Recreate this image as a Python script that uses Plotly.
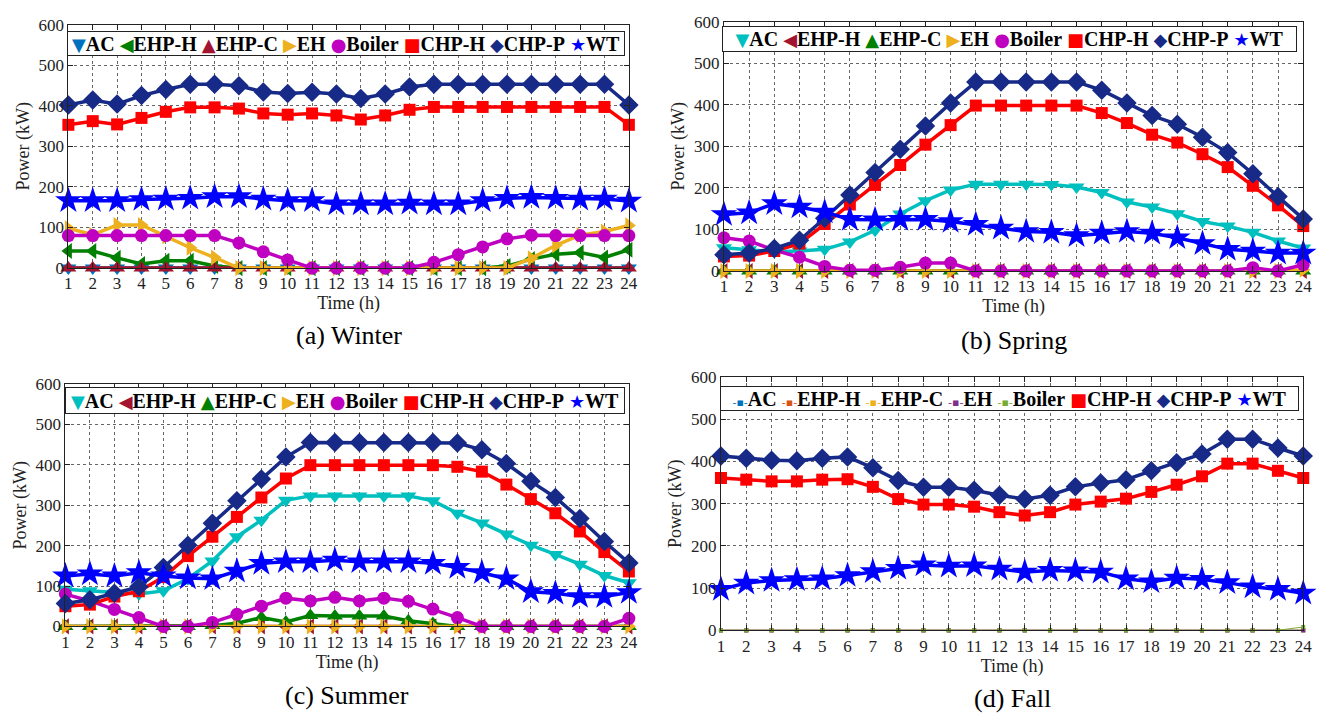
import plotly.graph_objects as go

# ---------------- data ----------------
hours = list(range(1, 25))
hour_labels = [str(h) for h in hours]
power_ticks = [0, 100, 200, 300, 400, 500, 600]
series_names = ["AC", "EHP-H", "EHP-C", "EH", "Boiler", "CHP-H", "CHP-P", "WT"]

# (a) Winter
w_ac = [0, 0, 0, 0, 0, 0, 0, 0, 0, 0, 0, 0, 0, 0, 0, 0, 0, 0, 0, 0, 0, 0, 0, 0]
w_ehp_h = [42, 42, 25, 10, 18, 18, 5, 0, 0, 0, 0, 0, 0, 0, 0, 0, 0, 0, 5, 22, 34, 38, 26, 45]
w_ehp_c = [0, 0, 0, 0, 0, 0, 0, 0, 0, 0, 0, 0, 0, 0, 0, 0, 0, 0, 0, 0, 0, 0, 0, 0]
w_eh = [98, 82, 106, 106, 78, 50, 26, 0, 0, 0, 0, 0, 0, 0, 0, 0, 0, 0, 0, 24, 56, 81, 90, 105]
w_boiler = [80, 80, 80, 80, 80, 80, 80, 62, 40, 20, 0, 0, 0, 0, 0, 14, 33, 52, 72, 81, 80, 80, 80, 80]
w_chp_h = [353, 362, 354, 370, 385, 396, 396, 393, 381, 378, 381, 376, 366, 376, 390, 397, 397, 397, 397, 397, 397, 397, 397, 353]
w_chp_p = [402, 414, 404, 425, 440, 453, 453, 449, 434, 430, 433, 429, 418, 429, 446, 453, 453, 453, 453, 453, 453, 453, 453, 402]
w_wt = [166, 166, 166, 169, 170, 172, 176, 176, 170, 166, 166, 158, 158, 158, 160, 158, 158, 166, 172, 174, 172, 170, 170, 165]

# (b) Spring
s_ac = [56, 51, 46, 48, 52, 70, 98, 137, 169, 195, 209, 209, 209, 208, 202, 189, 166, 154, 138, 119, 108, 93, 72, 55]
s_ehp_h = [0, 0, 0, 0, 0, 0, 0, 0, 0, 0, 0, 0, 0, 0, 0, 0, 0, 0, 0, 0, 0, 0, 0, 0]
s_ehp_c = [0, 0, 0, 0, 0, 0, 0, 0, 0, 0, 0, 0, 0, 0, 0, 0, 0, 0, 0, 0, 0, 0, 0, 0]
s_eh = [0, 0, 0, 0, 0, 0, 0, 0, 0, 0, 0, 0, 0, 0, 0, 0, 0, 0, 0, 0, 0, 0, 0, 3]
s_boiler = [80, 72, 50, 33, 11, 2, 2, 9, 19, 19, 0, 0, 0, 0, 0, 0, 0, 0, 0, 0, 0, 8, 0, 15]
s_chp_h = [35, 37, 48, 66, 113, 160, 207, 255, 304, 351, 398, 398, 398, 398, 398, 380, 356, 328, 309, 281, 250, 205, 158, 108]
s_chp_p = [39, 43, 54, 74, 127, 183, 237, 293, 349, 404, 455, 455, 455, 455, 455, 435, 404, 374, 353, 322, 285, 234, 179, 125]
s_wt = [136, 140, 162, 154, 142, 124, 123, 124, 124, 119, 112, 103, 95, 93, 85, 91, 95, 91, 80, 66, 52, 48, 43, 43]

# (c) Summer
u_ac = [92, 88, 82, 80, 88, 118, 162, 222, 263, 312, 323, 323, 323, 323, 323, 311, 280, 256, 229, 201, 178, 154, 126, 108]
u_ehp_h = [0, 0, 0, 0, 0, 0, 0, 0, 0, 0, 0, 0, 0, 0, 0, 0, 0, 0, 0, 0, 0, 0, 0, 0]
u_ehp_c = [0, 0, 0, 0, 0, 0, 2, 8, 22, 11, 27, 26, 26, 26, 14, 7, 0, 0, 0, 0, 0, 0, 0, 0]
u_eh = [0, 0, 0, 0, 0, 0, 0, 0, 0, 0, 0, 0, 0, 0, 0, 0, 0, 0, 0, 0, 0, 0, 0, 0]
u_boiler = [80, 63, 42, 22, 0, 0, 10, 30, 50, 70, 63, 72, 63, 70, 62, 43, 22, 0, 0, 0, 0, 0, 0, 20]
u_chp_h = [50, 54, 74, 87, 122, 174, 222, 271, 319, 366, 399, 399, 399, 399, 399, 399, 395, 383, 351, 315, 280, 235, 184, 136]
u_chp_p = [57, 66, 82, 98, 146, 201, 255, 311, 365, 419, 455, 455, 455, 455, 455, 455, 454, 437, 403, 359, 319, 267, 210, 157]
u_wt = [125, 130, 125, 133, 125, 120, 118, 137, 156, 160, 160, 164, 160, 160, 160, 156, 146, 133, 118, 86, 82, 74, 74, 84]

# (d) Fall
f_ac = [0, 0, 0, 0, 0, 0, 0, 0, 0, 0, 0, 0, 0, 0, 0, 0, 0, 0, 0, 0, 0, 0, 0, 0]
f_ehp_h = [0, 0, 0, 0, 0, 0, 0, 0, 0, 0, 0, 0, 0, 0, 0, 0, 0, 0, 0, 0, 0, 0, 0, 0]
f_ehp_c = [0, 0, 0, 0, 0, 0, 0, 0, 0, 0, 0, 0, 0, 0, 0, 0, 0, 0, 0, 0, 0, 0, 0, 0]
f_eh = [0, 0, 0, 0, 0, 0, 0, 0, 0, 0, 0, 0, 0, 0, 0, 0, 0, 0, 0, 0, 0, 0, 0, 0]
f_boiler = [0, 0, 0, 0, 0, 0, 0, 0, 0, 0, 0, 0, 0, 0, 0, 0, 0, 0, 0, 0, 0, 0, 0, 8]
f_chp_h = [361, 357, 353, 353, 357, 358, 340, 311, 298, 298, 293, 280, 272, 280, 298, 305, 312, 328, 345, 365, 395, 395, 378, 361]
f_chp_p = [413, 408, 403, 402, 408, 411, 385, 355, 339, 339, 332, 320, 311, 320, 340, 349, 357, 378, 397, 418, 453, 453, 432, 413]
f_wt = [97, 112, 118, 120, 122, 130, 139, 147, 155, 152, 153, 145, 138, 142, 141, 138, 122, 115, 124, 121, 113, 103, 97, 88]

captions = ["(a) Winter", "(b) Spring", "(c) Summer", "(d) Fall"]

# ---------------- styles ----------------
FONT = "Liberation Serif"
W, H = 1336, 727
C_BLUE_M = "#0072BD"
C_CYAN = "#00BFBF"
C_GREEN = "#008000"
C_DRED = "#A2142F"
C_ORANGE = "#EDB120"
C_MAG = "#C000C0"
C_RED = "#FF0000"
C_NAVY = "#172A88"
C_WT = "#0000FF"

style_winter = [
    ("triangle-down", C_BLUE_M, 14, 3.5, "▼"),
    ("triangle-left", C_GREEN, 14, 3.5, "◀"),
    ("triangle-up", C_DRED, 14, 3.5, "▲"),
    ("triangle-right", C_ORANGE, 14, 3.5, "▶"),
    ("circle", C_MAG, 13, 3.5, "●"),
    ("square", C_RED, 12, 3.5, "■"),
    ("diamond", C_NAVY, 15, 3.5, "◆"),
    ("star", C_WT, 20, 3.5, "★"),
]
style_mid = [
    ("triangle-down", C_CYAN, 14, 3.5, "▼"),
    ("triangle-left", C_DRED, 14, 3.5, "◀"),
    ("triangle-up", C_GREEN, 14, 3.5, "▲"),
    ("triangle-right", C_ORANGE, 14, 3.5, "▶"),
    ("circle", C_MAG, 13, 3.5, "●"),
    ("square", C_RED, 12, 3.5, "■"),
    ("diamond", C_NAVY, 15, 3.5, "◆"),
    ("star", C_WT, 20, 3.5, "★"),
]
style_fall = [
    ("square", "#0072BD", 4, 1, "▪"),
    ("square", "#D95319", 4, 1, "▪"),
    ("square", "#EDB120", 4, 1, "▪"),
    ("square", "#7E2F8E", 4, 1, "▪"),
    ("square", "#77AC30", 4, 1, "▪"),
    ("square", C_RED, 12, 3.5, "■"),
    ("diamond", C_NAVY, 15, 3.5, "◆"),
    ("star", C_WT, 20, 3.5, "★"),
]

panels = [
    dict(data=[w_ac, w_ehp_h, w_ehp_c, w_eh, w_boiler, w_chp_h, w_chp_p, w_wt], style=style_winter,
         box=(65, 631, 16, 266), leg=(66, 624, 23, 48), cap_y=335),
    dict(data=[s_ac, s_ehp_h, s_ehp_c, s_eh, s_boiler, s_chp_h, s_chp_p, s_wt], style=style_mid,
         box=(727, 1312, 13, 269), leg=(728, 1303, 18, 44), cap_y=340),
    dict(data=[u_ac, u_ehp_h, u_ehp_c, u_eh, u_boiler, u_chp_h, u_chp_p, u_wt], style=style_mid,
         box=(62, 631, 385, 634), leg=(64, 624, 388, 415), cap_y=705),
    dict(data=[f_ac, f_ehp_h, f_ehp_c, f_eh, f_boiler, f_chp_h, f_chp_p, f_wt], style=style_fall,
         box=(724, 1312, 378, 638), leg=(726, 1305, 387, 412), cap_y=708),
]

fig = go.Figure()
layout = dict(
    width=W, height=H, margin=dict(l=0, r=0, t=0, b=0),
    paper_bgcolor="white", plot_bgcolor="white", showlegend=False,
    font=dict(family=FONT, color="#222"),
)
annotations = []

for i, p in enumerate(panels, start=1):
    xa = "x" if i == 1 else f"x{i}"
    ya = "y" if i == 1 else f"y{i}"
    xk = "xaxis" if i == 1 else f"xaxis{i}"
    yk = "yaxis" if i == 1 else f"yaxis{i}"
    x0, x1, y0, y1 = p["box"]
    layout[xk] = dict(
        domain=[x0 / W, x1 / W], anchor=ya, range=[1, 24],
        tickmode="array", tickvals=hours, ticktext=hour_labels,
        showline=True, linecolor="#222", linewidth=1, mirror="ticks",
        ticks="inside", ticklen=5, tickcolor="#222",
        showgrid=True, gridcolor="#666", griddash="dot", gridwidth=1, zeroline=False,
        tickfont=dict(family=FONT, size=17, color="#222"),
        title=dict(text="Time (h)", font=dict(family=FONT, size=18, color="#222"), standoff=0),
    )
    layout[yk] = dict(
        domain=[1 - y1 / H, 1 - y0 / H], anchor=xa, range=[0, 600],
        tickmode="array", tickvals=power_ticks,
        showline=True, linecolor="#222", linewidth=1, mirror="ticks",
        ticks="inside", ticklen=5, tickcolor="#222",
        showgrid=True, gridcolor="#666", griddash="dot", gridwidth=1, zeroline=False,
        tickfont=dict(family=FONT, size=17, color="#222"),
        title=dict(text="Power (kW)", font=dict(family=FONT, size=18, color="#222"), standoff=4),
    )
    for name, vals, (sym, col, msize, lw, glyph) in zip(series_names, p["data"], p["style"]):
        fig.add_trace(go.Scatter(
            x=hours, y=vals, name=name, mode="lines+markers",
            line=dict(color=col, width=lw),
            marker=dict(symbol=sym, size=msize, color=col, line=dict(width=0)),
            xaxis=xa, yaxis=ya, cliponaxis=False,
        ))
    # legend box (text-based)
    lx0, lx1, ly0, ly1 = p["leg"]
    parts = []
    for name, (sym, col, msize, lw, glyph) in zip(series_names, p["style"]):
        if lw > 2:
            g = f"<span style='color:{col};font-family:DejaVu Sans;font-size:18px'>{glyph}</span>"
        else:
            g = f"<span style='color:{col};font-family:DejaVu Sans;font-size:11px'>-{glyph}-</span>"
        parts.append(g + f"<b>{name}</b>")
    annotations.append(dict(
        text="&nbsp;".join(parts), xref="paper", yref="paper",
        x=(lx0 + lx1) / 2 / W, y=1 - (ly0 + ly1) / 2 / H, xanchor="center", yanchor="middle",
        showarrow=False, bgcolor="white", bordercolor="#222", borderwidth=1, borderpad=0,
        width=lx1 - lx0 - 2, height=ly1 - ly0 - 2,
        font=dict(family=FONT, size=20, color="black"),
    ))
    annotations.append(dict(
        text=captions[i - 1], xref="paper", yref="paper",
        x=(x0 + x1) / 2 / W, y=1 - p["cap_y"] / H, xanchor="center", yanchor="middle",
        showarrow=False, font=dict(family=FONT, size=26, color="black"),
    ))

layout["annotations"] = annotations
fig.update_layout(**layout)
fig.write_html("out.html")
